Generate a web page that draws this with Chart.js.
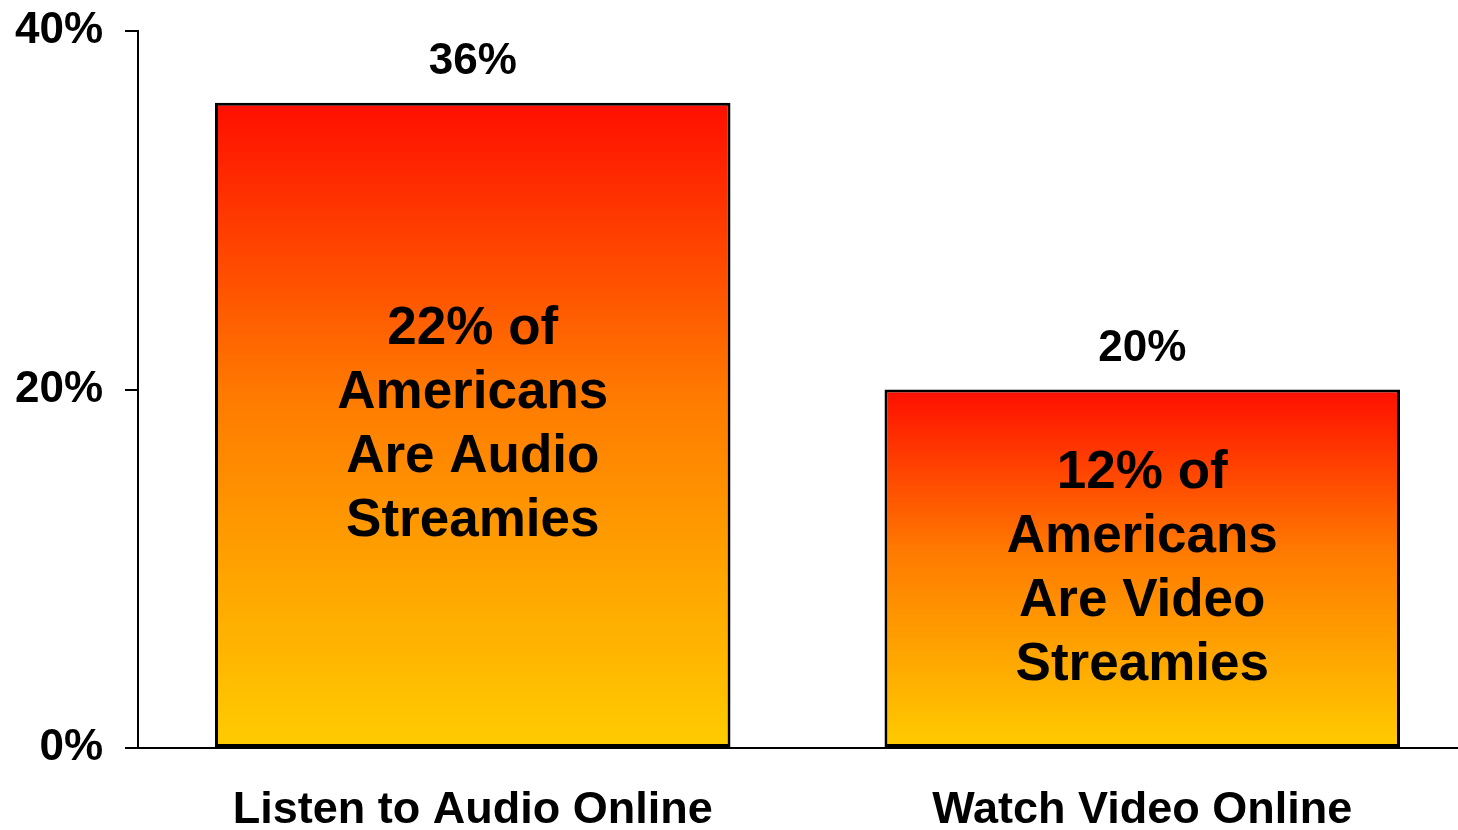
<!DOCTYPE html>
<html>
<head>
<meta charset="utf-8">
<script src="https://cdn.jsdelivr.net/npm/chart.js@4.4.1/dist/chart.umd.min.js"></script>
<style>
  html, body { margin: 0; padding: 0; background: #ffffff; overflow: hidden; }
  #wrap { width: 1458px; height: 830px; overflow: hidden; }
  canvas { display: block; }
</style>
</head>
<body>
<div id="wrap"><canvas id="c" width="1477" height="830"></canvas></div>
<script>
const categories = ["Listen to Audio Online", "Watch Video Online"];
const values = [36, 20];
const streamieShare = [22, 12];
const streamieKind = ["Audio", "Video"];
const yTicks = [0, 20, 40];

const FONT = "'Liberation Sans', Arial, Helvetica, sans-serif";

function innerLines(i) {
  return [streamieShare[i] + "% of", "Americans", "Are " + streamieKind[i], "Streamies"];
}

const labelPlugin = {
  id: 'barLabels',
  afterDatasetsDraw(chart) {
    const ctx = chart.ctx;
    const meta = chart.getDatasetMeta(0);
    ctx.save();
    ctx.fillStyle = '#000';
    ctx.textAlign = 'center';
    meta.data.forEach((bar, i) => {
      const props = bar.getProps(['x', 'y', 'base'], true);
      ctx.font = "bold 44px " + FONT;
      ctx.textBaseline = 'alphabetic';
      ctx.fillText(values[i] + "%", props.x, props.y - 29);
      const lines = innerLines(i);
      ctx.font = "bold 53px " + FONT;
      ctx.textBaseline = 'middle';
      const lh = 64;
      const mid = (props.y + props.base) / 2 + 1;
      const start = mid - lh * (lines.length - 1) / 2;
      lines.forEach((t, k) => ctx.fillText(t, props.x, start + k * lh));
    });
    ctx.restore();
  }
};

new Chart(document.getElementById('c'), {
  type: 'bar',
  data: {
    labels: categories,
    datasets: [{
      data: values,
      backgroundColor(context) {
        const chart = context.chart;
        const y = chart.scales.y;
        if (!chart.chartArea || !y) return '#FF8000';
        const top = y.getPixelForValue(context.raw);
        const bot = y.getPixelForValue(0);
        const g = chart.ctx.createLinearGradient(0, top, 0, bot);
        g.addColorStop(0, '#FF0E00');
        g.addColorStop(0.45, '#FF7A00');
        g.addColorStop(1, '#FFCC00');
        return g;
      },
      borderColor: '#000',
      borderWidth: 3,
      borderSkipped: false,
      barPercentage: 0.77,
      categoryPercentage: 1.0
    }]
  },
  options: {
    responsive: false,
    animation: false,
    layout: { padding: { top: 31, right: 0, left: 0, bottom: 0 } },
    plugins: { legend: { display: false }, tooltip: { enabled: false } },
    scales: {
      x: {
        grid: { display: true, drawOnChartArea: false, drawTicks: false },
        border: { display: true, color: '#000', width: 2 },
        ticks: {
          color: '#000',
          font: { family: FONT, size: 45, weight: 'bold' },
          padding: 36,
          maxRotation: 0
        },
        afterFit(axis) { axis.height = 82; axis.paddingLeft = 0; axis.paddingRight = 0; }
      },
      y: {
        min: 0,
        max: 40,
        afterBuildTicks(axis) { axis.ticks = yTicks.map(v => ({ value: v })); },
        grid: { display: true, drawOnChartArea: false, drawTicks: true, tickLength: 13, color: '#000', lineWidth: 2 },
        border: { display: true, color: '#000', width: 2 },
        ticks: {
          color: '#000',
          font: { family: FONT, size: 44, weight: 'bold' },
          padding: 22,
          callback: v => v + '%'
        },
        afterFit(axis) { axis.width = 138; axis.paddingTop = 0; axis.paddingBottom = 0; }
      }
    }
  },
  plugins: [labelPlugin]
});
</script>
</body>
</html>
